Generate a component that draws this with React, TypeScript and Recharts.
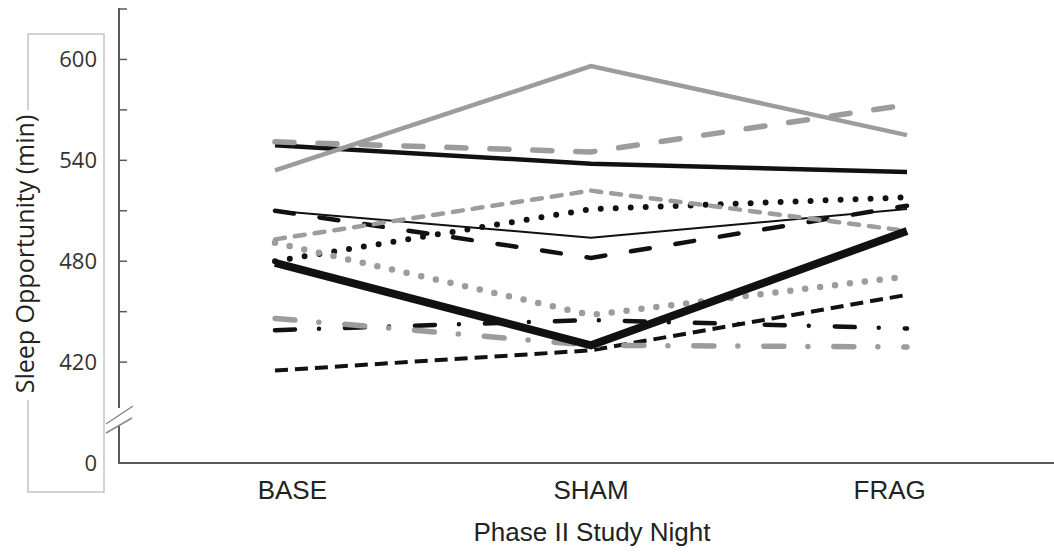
import React from "react";
import { LineChart, Line, XAxis, YAxis } from "recharts";

// Study nights on the x axis
const nights = ["BASE", "SHAM", "FRAG"];

// Sleep opportunity (min) per participant, BASE / SHAM / FRAG
const p01 = [534, 596, 555];
const p02 = [551, 545, 573];
const p03 = [549, 538, 533];
const p04 = [493, 522, 498];
const p05 = [480, 511, 518];
const p06 = [510, 494, 511];
const p07 = [510, 482, 513];
const p08 = [479, 430, 498];
const p09 = [491, 448, 471];
const p10 = [439, 445, 440];
const p11 = [446, 430, 429];
const p12 = [415, 427, 460];

// y axis: broken below 420, the bottom of the axis stands for 0
const BREAK_VALUE = 360;
const yTicks = [BREAK_VALUE, 420, 450, 480, 510, 540, 570, 600, 630];

const W = 1054;
const H = 554;
const GRAY = "#9c9c9c";
const BLACK = "#111";
const AXIS = "#5a5a5a";

const data = nights.map((night, i) => ({
  night,
  p01: p01[i],
  p02: p02[i],
  p03: p03[i],
  p04: p04[i],
  p05: p05[i],
  p06: p06[i],
  p07: p07[i],
  p08: p08[i],
  p09: p09[i],
  p10: p10[i],
  p11: p11[i],
  p12: p12[i],
}));

type Style = { key: string; color: string; width: number; dash?: string; cap?: "round" | "butt" };

// drawn in this order, last on top
const series: Style[] = [
  { key: "p12", color: BLACK, width: 4, dash: "13 7", cap: "butt" },
  { key: "p10", color: BLACK, width: 4.5, dash: "20 24 0 26", cap: "round" },
  { key: "p11", color: GRAY, width: 5.5, dash: "20 24 0 26", cap: "round" },
  { key: "p06", color: BLACK, width: 2 },
  { key: "p07", color: BLACK, width: 4.5, dash: "19 26", cap: "round" },
  { key: "p05", color: BLACK, width: 6, dash: "0 15", cap: "round" },
  { key: "p09", color: GRAY, width: 6.5, dash: "0 15", cap: "round" },
  { key: "p04", color: GRAY, width: 4.5, dash: "10 10", cap: "round" },
  { key: "p03", color: BLACK, width: 4.5 },
  { key: "p02", color: GRAY, width: 5.5, dash: "19 24", cap: "round" },
  { key: "p01", color: GRAY, width: 4.5 },
  { key: "p08", color: BLACK, width: 8 },
];

function YTick(props: any) {
  const { y, payload } = props;
  const v = payload.value as number;
  const label = v === BREAK_VALUE ? "0" : v % 60 === 0 && v < 630 ? String(v) : "";
  return (
    <g>
      {v !== BREAK_VALUE && <line x1={119} x2={127} y1={y} y2={y} stroke={AXIS} strokeWidth={1.5} />}
      {label && (
        <text
          x={97}
          y={y}
          dy="0.36em"
          textAnchor="end"
          fontFamily="'Open Sans', sans-serif"
          fontSize={22}
          fill="#333"
        >
          {label}
        </text>
      )}
    </g>
  );
}

function XTick(props: any) {
  const { x, payload } = props;
  // labels sit a little closer to the middle than the points
  const tx = x + (591 - x) * 0.055;
  return (
    <text
      x={tx}
      y={499}
      textAnchor="middle"
      fontFamily="'Liberation Sans', Arial, sans-serif"
      fontSize={26}
      fill="#222"
    >
      {payload.value}
    </text>
  );
}

export default function App() {
  return (
    <div style={{ position: "absolute", left: 0, top: 0, width: W, height: H, background: "#fff" }}>
      <LineChart width={W} height={H} data={data} margin={{ top: 9, right: 0, bottom: 31, left: 0 }}>
        <XAxis
          dataKey="night"
          height={60}
          padding={{ left: 156, right: 147 }}
          axisLine={{ stroke: AXIS, strokeWidth: 2 }}
          tickLine={false}
          tick={<XTick />}
          interval={0}
        />
        <YAxis
          type="number"
          width={119}
          domain={[BREAK_VALUE, 630]}
          ticks={yTicks}
          interval={0}
          allowDataOverflow
          axisLine={false}
          tickLine={false}
          tick={<YTick />}
        />
        {series.map((s) => (
          <Line
            key={s.key}
            dataKey={s.key}
            type="linear"
            stroke={s.color}
            strokeWidth={s.width}
            strokeDasharray={s.dash}
            strokeLinecap={s.cap ?? "butt"}
            dot={false}
            activeDot={false}
            isAnimationActive={false}
          />
        ))}
      </LineChart>

      {/* y axis line with break, label frame and axis titles */}
      <svg
        width={W}
        height={H}
        style={{ position: "absolute", left: 0, top: 0, pointerEvents: "none" }}
      >
        <line x1={119} x2={119} y1={8} y2={408} stroke={AXIS} strokeWidth={2} />
        <line x1={119} x2={119} y1={426} y2={464} stroke={AXIS} strokeWidth={2} />
        <line x1={106} y1={424} x2={133} y2={406} stroke="#888" strokeWidth={1.5} />
        <line x1={106} y1={433} x2={132} y2={418} stroke="#888" strokeWidth={1.5} />

        <rect x={28} y={34} width={76} height={458} fill="none" stroke="#c4c4c4" strokeWidth={1.5} />
        <rect x={12} y={110} width={30} height={290} fill="#fff" />
        <text
          transform="translate(34, 254) rotate(-90)"
          textAnchor="middle"
          fontFamily="'Open Sans', sans-serif"
          fontSize={25}
          fill="#222"
        >
          Sleep Opportunity (min)
        </text>

        <text
          x={592}
          y={541}
          textAnchor="middle"
          fontFamily="'Liberation Sans', Arial, sans-serif"
          fontSize={26}
          fill="#222"
        >
          Phase II Study Night
        </text>
      </svg>
    </div>
  );
}
